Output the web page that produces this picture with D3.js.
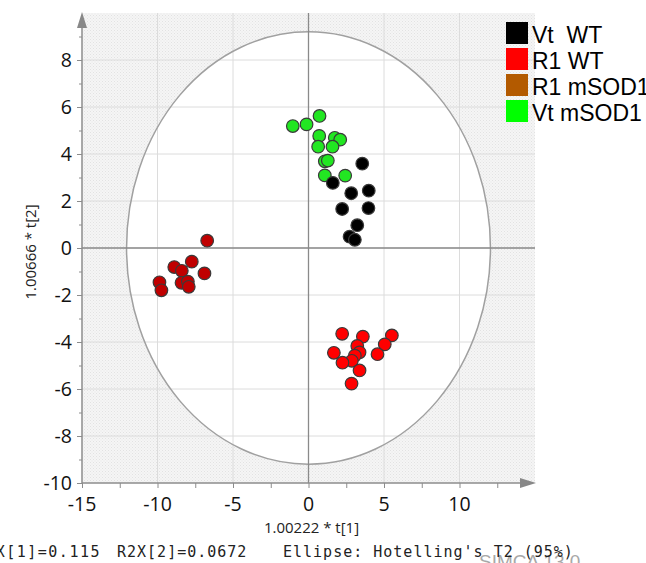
<!DOCTYPE html>
<html>
<head>
<meta charset="utf-8">
<script src="https://cdn.jsdelivr.net/npm/d3@7/dist/d3.min.js"></script>
<style>
  body { margin: 0; background: #fff; }
  svg { display: block; }
</style>
</head>
<body>
<div id="chart"></div>
<script>
// groups shown in the legend
var groups = ["Vt  WT", "R1 WT", "R1 mSOD1", "Vt mSOD1"];
var legendColors = ["#000000", "#ff0000", "#b35a00", "#00ff00"];
var pointColors = ["#000000", "#ff0000", "#c00000", "#22e622"];

// score values per group: t[1] and t[2]
var vtWT_x = [3.56, 1.61, 2.83, 3.99, 2.23, 3.97, 3.23, 2.72, 3.07];
var vtWT_y = [3.59, 2.77, 2.33, 2.44, 1.66, 1.70, 0.97, 0.48, 0.35];

var r1WT_x = [2.23, 3.60, 5.52, 3.23, 5.05, 1.68, 3.38, 4.57, 3.07, 2.87, 2.25, 3.38, 2.85];
var r1WT_y = [-3.65, -3.77, -3.72, -4.17, -4.10, -4.46, -4.44, -4.52, -4.58, -4.80, -4.88, -5.21, -5.77];

var r1mSOD1_x = [-6.71, -7.73, -8.89, -8.39, -6.89, -9.87, -8.41, -7.99, -7.93, -9.74];
var r1mSOD1_y = [0.31, -0.58, -0.81, -0.97, -1.08, -1.46, -1.48, -1.43, -1.65, -1.80];

var vtmSOD1_x = [0.73, -0.13, -1.04, 0.71, 1.74, 2.10, 0.64, 1.59, 1.08, 1.28, 1.08, 2.43];
var vtmSOD1_y = [5.62, 5.26, 5.19, 4.77, 4.69, 4.61, 4.31, 4.31, 3.69, 3.72, 3.09, 3.08];

var xTicks = [-15, -10, -5, 0, 5, 10];
var yTicks = [-10, -8, -6, -4, -2, 0, 2, 4, 6, 8];
var ellipseR = [12.05, 9.2];

var W = 646, H = 563;
var svg = d3.select("#chart").append("svg").attr("width", W).attr("height", H);

var x = d3.scaleLinear().domain([-15, 15]).range([82, 535]);
var y = d3.scaleLinear().domain([-10, 10]).range([483, 13]);

// dotted background pattern
var defs = svg.append("defs");
var pat = defs.append("pattern").attr("id", "dots").attr("patternUnits", "userSpaceOnUse")
    .attr("width", 3).attr("height", 3);
pat.append("rect").attr("width", 3).attr("height", 3).attr("fill", "#f5f5f5");
pat.append("rect").attr("width", 1).attr("height", 1).attr("fill", "#e2e2e2");
pat.append("rect").attr("x", 1.5).attr("y", 1.5).attr("width", 1).attr("height", 1).attr("fill", "#e8e8e8");

svg.append("rect")
    .attr("x", x(-15)).attr("y", y(10))
    .attr("width", x(15) - x(-15)).attr("height", y(-10) - y(10))
    .attr("fill", "url(#dots)");

// white interior of the ellipse
svg.append("ellipse")
    .attr("cx", x(0)).attr("cy", y(0))
    .attr("rx", x(ellipseR[0]) - x(0)).attr("ry", y(0) - y(ellipseR[1]))
    .attr("fill", "#fff");

// grid lines
svg.append("g").selectAll("line").data(xTicks.slice(1)).enter().append("line")
    .attr("x1", function(d) { return x(d); }).attr("x2", function(d) { return x(d); })
    .attr("y1", y(10)).attr("y2", y(-10))
    .attr("stroke", "#dcdcdc").attr("stroke-width", 1);
svg.append("g").selectAll("line").data(yTicks.slice(1)).enter().append("line")
    .attr("x1", x(-15)).attr("x2", x(15))
    .attr("y1", function(d) { return y(d); }).attr("y2", function(d) { return y(d); })
    .attr("stroke", "#dcdcdc").attr("stroke-width", 1);

// ellipse outline
svg.append("ellipse")
    .attr("cx", x(0)).attr("cy", y(0))
    .attr("rx", x(ellipseR[0]) - x(0)).attr("ry", y(0) - y(ellipseR[1]))
    .attr("fill", "none").attr("stroke", "#a0a0a0").attr("stroke-width", 1.5);

// zero lines
svg.append("line").attr("x1", x(0)).attr("x2", x(0)).attr("y1", y(10)).attr("y2", y(-10))
    .attr("stroke", "#8a8a8a").attr("stroke-width", 1.3);
svg.append("line").attr("x1", x(-15)).attr("x2", x(15)).attr("y1", y(0)).attr("y2", y(0))
    .attr("stroke", "#8a8a8a").attr("stroke-width", 1.3);

// axes
var axisColor = "#8c8c8c";
var xAxis = svg.append("g").attr("transform", "translate(0," + y(-10) + ")")
    .call(d3.axisBottom(x).tickValues(d3.range(-15, 15, 2.5)).tickSize(5).tickFormat(""));
var yAxis = svg.append("g").attr("transform", "translate(" + x(-15) + ",0)")
    .call(d3.axisLeft(y).tickValues(d3.range(-10, 10, 1)).tickSize(3).tickFormat(""));
[xAxis, yAxis].forEach(function(a) {
  a.select(".domain").remove();
  a.selectAll("line").attr("stroke", axisColor);
});
yAxis.selectAll(".tick").filter(function(d) { return d % 2 === 0; }).select("line").attr("x2", -5);

svg.append("line").attr("x1", x(-15)).attr("x2", x(15) - 6).attr("y1", y(-10)).attr("y2", y(-10))
    .attr("stroke", axisColor).attr("stroke-width", 1.5);
svg.append("line").attr("x1", x(-15)).attr("x2", x(-15)).attr("y1", y(-10)).attr("y2", y(10) + 6)
    .attr("stroke", axisColor).attr("stroke-width", 1.5);
svg.append("path")
    .attr("d", "M" + (x(15) + 1) + "," + y(-10) + "l-16,-5l0,10z").attr("fill", "#888");
svg.append("path")
    .attr("d", "M" + x(-15) + "," + (y(10) - 1) + "l-5,16l10,0z").attr("fill", "#888");

// tick labels
var tickFont = "'Open Sans', 'Noto Sans', sans-serif";
svg.append("g").selectAll("text").data(xTicks).enter().append("text")
    .attr("x", function(d) { return x(d); }).attr("y", 511)
    .attr("text-anchor", "middle")
    .attr("font-family", tickFont).attr("font-size", 19.5).attr("fill", "#111")
    .text(function(d) { return d; });
svg.append("g").selectAll("text").data(yTicks).enter().append("text")
    .attr("x", 72).attr("y", function(d) { return y(d); }).attr("dy", "0.36em")
    .attr("text-anchor", "end")
    .attr("font-family", tickFont).attr("font-size", 19.5).attr("fill", "#111")
    .text(function(d) { return d; });

// axis titles
svg.append("text").attr("x", x(0) + 3).attr("y", 533).attr("text-anchor", "middle")
    .attr("font-family", tickFont).attr("font-size", 15).attr("fill", "#222")
    .text("1.00222 * t[1]");
svg.append("text").attr("transform", "translate(36,252) rotate(-90)").attr("text-anchor", "middle")
    .attr("font-family", tickFont).attr("font-size", 15).attr("fill", "#222")
    .text("1.00666 * t[2]");

// points
var series = [[vtWT_x, vtWT_y], [r1WT_x, r1WT_y], [r1mSOD1_x, r1mSOD1_y], [vtmSOD1_x, vtmSOD1_y]];
var drawOrder = [2, 1, 3, 0];
drawOrder.forEach(function(gi) {
  var pts = series[gi][0].map(function(v, i) { return [v, series[gi][1][i]]; });
  svg.append("g").selectAll("circle").data(pts).enter().append("circle")
      .attr("cx", function(d) { return x(d[0]); })
      .attr("cy", function(d) { return y(d[1]); })
      .attr("r", 6.3)
      .attr("fill", pointColors[gi])
      .attr("stroke", "#3a3a3a").attr("stroke-width", 1.2);
});

// legend
var legend = svg.append("g").selectAll("g").data(groups).enter().append("g")
    .attr("transform", function(d, i) { return "translate(506," + (22 + i * 26) + ")"; });
legend.append("rect").attr("width", 22).attr("height", 22)
    .attr("fill", function(d, i) { return legendColors[i]; });
legend.append("text").attr("x", 26).attr("y", 21)
    .attr("font-family", "'Liberation Sans', Arial, sans-serif").attr("font-size", 23)
    .attr("fill", "#000").style("white-space", "pre")
    .text(function(d) { return d; });

// footer statistics
var mono = "'DejaVu Sans Mono', monospace";
var footer = [["R2X[1]=0.115", 101, "end"], ["R2X[2]=0.0672", 117, "start"], ["Ellipse: Hotelling's T2 (95%)", 283, "start"]];
svg.append("text").attr("x", 479).attr("y", 568)
    .attr("font-family", "'Liberation Sans', sans-serif").attr("font-size", 19).attr("fill", "#a8a8a8")
    .text("SIMCA 13.0");
svg.append("g").selectAll("text").data(footer).enter().append("text")
    .attr("x", function(d) { return d[1]; }).attr("y", 557)
    .attr("text-anchor", function(d) { return d[2]; })
    .attr("font-family", mono).attr("font-size", 15).attr("letter-spacing", function(d, i) { return i === 0 ? 1.5 : 1; })
    .attr("fill", "#222")
    .text(function(d) { return d[0]; });
</script>
</body>
</html>
